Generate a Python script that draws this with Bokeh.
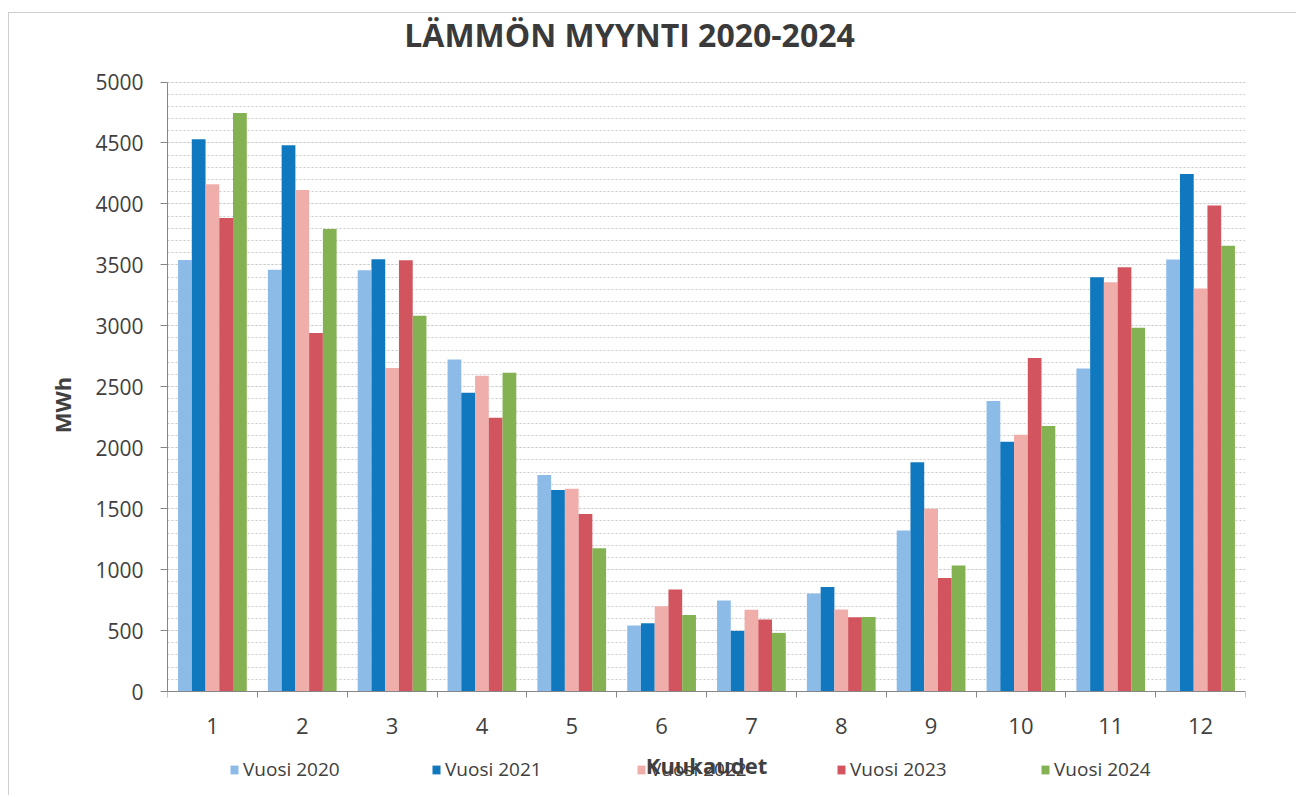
from bokeh.plotting import figure
from bokeh.models import (ColumnDataSource, FixedTicker, Legend, LegendItem, Label)
from bokeh.transform import dodge
from bokeh.embed import file_html
from bokeh.resources import INLINE

months = [1, 2, 3, 4, 5, 6, 7, 8, 9, 10, 11, 12]
month_labels = ["1", "2", "3", "4", "5", "6", "7", "8", "9", "10", "11", "12"]
series_names = ["Vuosi 2020", "Vuosi 2021", "Vuosi 2022", "Vuosi 2023", "Vuosi 2024"]
v2020 = [3540, 3460, 3456, 2724, 1776, 541, 746, 803, 1320, 2383, 2650, 3544]
v2021 = [4530, 4481, 3546, 2451, 1653, 560, 497, 858, 1880, 2049, 3399, 4246]
v2022 = [4161, 4115, 2653, 2590, 1664, 699, 670, 672, 1500, 2107, 3358, 3306]
v2023 = [3885, 2940, 3538, 2246, 1456, 836, 590, 609, 932, 2735, 3481, 3986]
v2024 = [4746, 3795, 3082, 2615, 1175, 628, 481, 612, 1033, 2177, 2984, 3656]
y_ticks = [0, 500, 1000, 1500, 2000, 2500, 3000, 3500, 4000, 4500, 5000]
title_text = "LÄMMÖN MYYNTI 2020-2024"

colors = ["#8DBBE8", "#1078BE", "#F0AEAB", "#D2545E", "#84B151"]
FONT = "Open Sans"
TXT = "#404040"

# layout (pixels, canvas coordinates)
W, H = 1288, 783
LEFT, RIGHT = 158, 52
Y0_PX, Y5000_PX = 678, 68.5        # canvas rows of 0 and 5000
upp = 5000.0 / (Y0_PX - Y5000_PX)  # data units per pixel
y_lo = -(H - Y0_PX) * upp
y_hi = 5000 + Y5000_PX * upp

source = ColumnDataSource(dict(month=months, v2020=v2020, v2021=v2021,
                               v2022=v2022, v2023=v2023, v2024=v2024))

p = figure(width=W, height=H, output_backend="svg", toolbar_location=None,
           x_range=(0.5, 12.5), y_range=(y_lo, y_hi),
           min_border_left=LEFT, min_border_right=RIGHT, min_border_top=0,
           min_border_bottom=0)
p.styles = {"margin-left": "8px", "margin-top": "12px",
            "border-left": "1px solid #cfcfcf", "border-top": "1px solid #cfcfcf"}

p.outline_line_color = None
p.background_fill_color = "white"
p.border_fill_color = "white"

bw = 0.153
cols = ["v2020", "v2021", "v2022", "v2023", "v2024"]
renderers = []
for i, (c, col) in enumerate(zip(cols, colors)):
    r = p.vbar(x=dodge("month", (i - 2) * bw), top=c, width=bw, source=source,
               fill_color=col, line_color=None)
    renderers.append(r)

# x axis fixed at y=0 inside the frame
xa = p.xaxis[0]
xa.fixed_location = 0
xa.ticker = FixedTicker(ticks=months, minor_ticks=[m + 0.5 for m in [0] + months])
xa.major_label_overrides = {m: l for m, l in zip(months, month_labels)}
xa.major_tick_out = 0
xa.major_tick_in = 0
xa.minor_tick_out = 6
xa.minor_tick_in = 0
xa.minor_tick_line_color = "#868686"
xa.axis_line_color = "#868686"
xa.major_label_text_font = FONT
xa.major_label_text_font_size = "22px"
xa.major_label_text_color = TXT
xa.major_label_standoff = 20
xa.axis_label = "Kuukaudet"
xa.axis_label_text_font = FONT
xa.axis_label_text_font_size = "22px"
xa.axis_label_text_font_style = "bold"
xa.axis_label_text_color = TXT
xa.axis_label_standoff = 13

ya = p.yaxis[0]
ya.bounds = (0, 5000)
ya.ticker = FixedTicker(ticks=y_ticks, minor_ticks=list(range(0, 5001, 100)))
ya.major_tick_out = 7
ya.major_tick_in = 0
ya.minor_tick_out = 0
ya.minor_tick_in = 0
ya.major_tick_line_color = "#868686"
ya.axis_line_color = "#868686"
ya.major_label_text_font = FONT
ya.major_label_text_font_size = "21px"
ya.major_label_text_color = TXT
ya.major_label_standoff = 17
ya.axis_label = "MWh"
ya.axis_label_text_font = FONT
ya.axis_label_text_font_size = "22px"
ya.axis_label_text_font_style = "bold"
ya.axis_label_text_color = TXT
ya.axis_label_standoff = 15

p.xgrid.grid_line_color = None
p.ygrid.grid_line_color = "#cacaca"
p.ygrid.grid_line_dash = "2 2"
p.ygrid.minor_grid_line_color = "#cacaca"
p.ygrid.minor_grid_line_dash = "2 2"

# title as a label inside the (extended) frame
title_x = 0.5 + (620 - LEFT) * 12.0 / (W - LEFT - RIGHT)
title_y = 5000 + (Y5000_PX - 21) * upp
p.add_layout(Label(x=title_x, y=title_y, text=title_text, text_align="center",
                   text_baseline="middle", text_font=FONT, text_font_size="32px",
                   text_font_style="bold", text_color="#3a3a3a"))

# legend: one legend per series along the bottom
leg_x = [62, 264, 469, 669, 873]
leg_y = 11 + (H - 780)
for name, r, lx in zip(series_names, renderers, leg_x):
    lg = Legend(items=[LegendItem(label=name, renderers=[r])], location=(lx, leg_y),
                orientation="horizontal", background_fill_alpha=0,
                border_line_color=None, padding=0, margin=0,
                glyph_width=10, glyph_height=11, label_standoff=4,
                label_text_font=FONT, label_text_font_size="19px",
                label_text_color=TXT)
    p.add_layout(lg, "center")

open("out.html", "w").write(file_html(p, INLINE))
